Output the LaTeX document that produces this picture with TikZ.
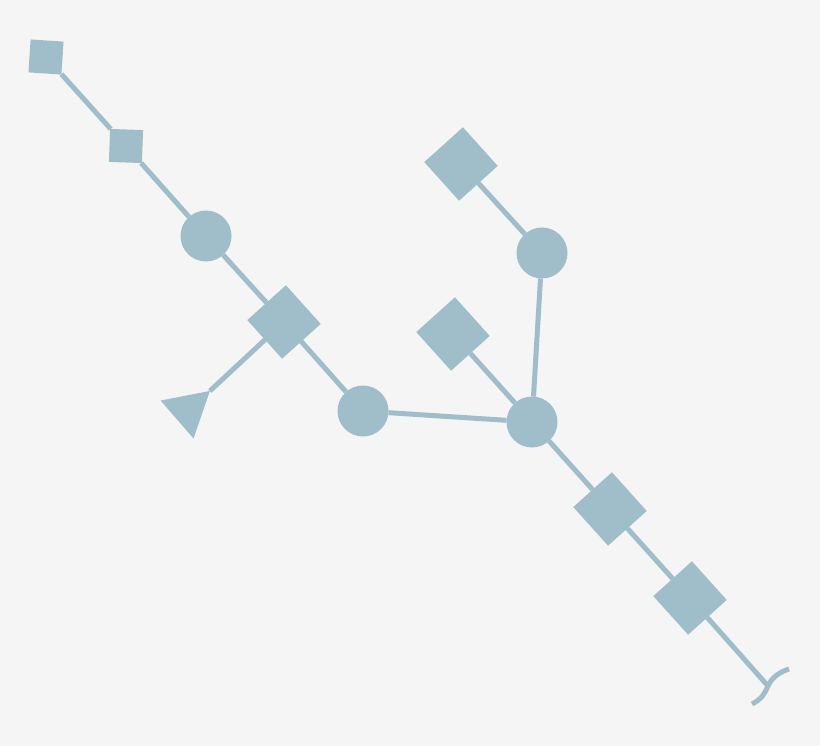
\documentclass[tikz,border=0pt]{standalone}
\usetikzlibrary{shapes.geometric}
\pgfdeclarelayer{back}
\pgfdeclarelayer{bg}
\pgfsetlayers{back,bg,main}
\definecolor{bgc}{HTML}{F5F5F5}
\definecolor{nc}{HTML}{A0BDCA}
\tikzset{
  conn/.style={draw=nc, line width=5pt},
  sq/.style={fill=nc, shape=rectangle, minimum size=33pt, inner sep=0pt, outer sep=0pt},
  dia/.style={fill=nc, shape=rectangle, minimum size=52pt, inner sep=0pt, outer sep=0pt, rotate=-48},
  circ/.style={fill=nc, shape=circle, minimum size=51pt, inner sep=0pt, outer sep=0pt},
  tri/.style={fill=nc, shape=regular polygon, regular polygon sides=3, minimum size=58pt, inner sep=0pt, outer sep=0pt, rotate=-49},
}
\begin{document}
\begin{tikzpicture}[x=1pt,y=-1pt]
\begin{pgfonlayer}{back}
\fill[bgc] (0,0) rectangle (820,746);
\end{pgfonlayer}
\useasboundingbox (0,0) rectangle (820,746);
\node[sq, rotate=-3.8] (s1) at (46,57) {};
\node[sq, rotate=-2] (s2) at (126,146) {};
\node[circ] (c1) at (206,236) {};
\node[dia] (d1) at (284,322) {};
\node[tri] (t1) at (188,410) {};
\node[circ] (c2) at (363,411) {};
\node[dia] (d2) at (461,164) {};
\node[circ] (c3) at (542,253) {};
\node[dia] (d3) at (453,334) {};
\node[circ] (c4) at (532,422) {};
\node[dia] (d4) at (610,509) {};
\node[dia] (d5) at (690,598) {};
\coordinate (e) at (768,686);
\coordinate (ea) at (752,704);
\coordinate (eb) at (789,669);
\begin{pgfonlayer}{bg}
\draw[conn] (s1) -- (s2);
\draw[conn] (s2) -- (c1);
\draw[conn] (c1) -- (d1);
\draw[conn] (d1) -- (c2);
\draw[conn] (d1) -- (t1.corner 1);
\draw[conn] (c2) -- (c4);
\draw[conn] (d2) -- (c3);
\draw[conn] (c3) -- (c4);
\draw[conn] (d3) -- (c4);
\draw[conn] (c4) -- (d4);
\draw[conn] (d4) -- (d5);
\draw[conn] (d5) -- (e);
\draw[conn] (ea) .. controls (762,699) and (765,693) .. (e) .. controls (772,677) and (780,672) .. (eb);
\end{pgfonlayer}
\end{tikzpicture}
\end{document}
